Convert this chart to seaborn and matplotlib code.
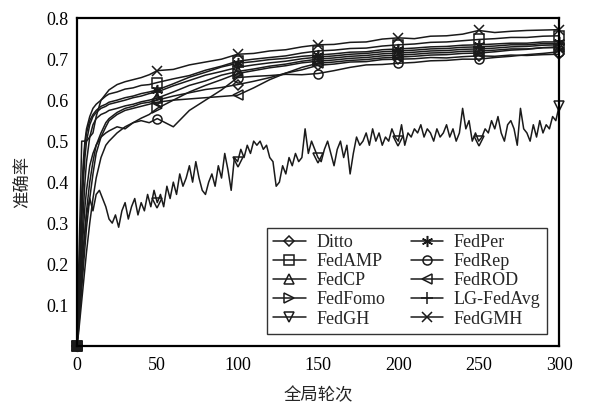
import matplotlib
matplotlib.use("Agg")
import matplotlib.pyplot as plt
import numpy as np
import pandas as pd
import seaborn as sns

# shared round grid for the smooth curves
ROUNDS = [0, 1, 2, 3, 4, 5, 6, 8, 10, 12, 15, 18, 20, 25, 30, 35, 40, 45, 50,
          60, 70, 80, 90, 100, 110, 120, 130, 140, 150, 160, 170, 180, 190, 200,
          210, 220, 230, 240, 250, 260, 270, 280, 290, 300]

DITTO = [0, 0.05, 0.10, 0.16, 0.22, 0.28, 0.33, 0.40, 0.45, 0.49, 0.52, 0.545, 0.555, 0.57, 0.58, 0.585, 0.592, 0.595, 0.60,
         0.61, 0.618, 0.626, 0.631, 0.638, 0.646, 0.655, 0.666, 0.674, 0.685, 0.688, 0.693, 0.694, 0.699, 0.70,
         0.701, 0.704, 0.703, 0.706, 0.708, 0.707, 0.71, 0.709, 0.711, 0.712]
FEDAMP = [0, 0.12, 0.25, 0.37, 0.45, 0.50, 0.53, 0.56, 0.58, 0.59, 0.60, 0.61, 0.615, 0.62, 0.627, 0.63, 0.636, 0.638, 0.643,
          0.652, 0.66, 0.673, 0.683, 0.695, 0.70, 0.704, 0.708, 0.715, 0.72, 0.722, 0.726, 0.727, 0.732, 0.735,
          0.737, 0.741, 0.742, 0.745, 0.748, 0.75, 0.753, 0.753, 0.756, 0.757]
FEDCP = [0, 0.06, 0.14, 0.24, 0.33, 0.40, 0.45, 0.51, 0.54, 0.555, 0.565, 0.57, 0.575, 0.58, 0.586, 0.59, 0.596, 0.60, 0.605,
         0.62, 0.636, 0.647, 0.661, 0.67, 0.676, 0.683, 0.688, 0.695, 0.70, 0.703, 0.707, 0.709, 0.713, 0.715,
         0.717, 0.72, 0.721, 0.724, 0.725, 0.727, 0.73, 0.731, 0.734, 0.735]
FEDFOMO = [0, 0.03, 0.07, 0.11, 0.15, 0.19, 0.23, 0.30, 0.36, 0.41, 0.46, 0.49, 0.50, 0.52, 0.535, 0.545, 0.556, 0.565, 0.58,
           0.60, 0.62, 0.636, 0.65, 0.665, 0.672, 0.679, 0.684, 0.691, 0.695, 0.698, 0.702, 0.704, 0.708, 0.71,
           0.712, 0.715, 0.716, 0.719, 0.72, 0.722, 0.725, 0.725, 0.728, 0.728]
FEDPER = [0, 0.10, 0.22, 0.34, 0.43, 0.49, 0.52, 0.55, 0.565, 0.575, 0.585, 0.59, 0.595, 0.60, 0.606, 0.61, 0.616, 0.62, 0.625,
          0.64, 0.656, 0.668, 0.681, 0.69, 0.694, 0.699, 0.702, 0.707, 0.71, 0.713, 0.717, 0.718, 0.723, 0.725,
          0.727, 0.73, 0.731, 0.734, 0.735, 0.737, 0.739, 0.739, 0.742, 0.742]
FEDREP = [0, 0.06, 0.13, 0.21, 0.28, 0.34, 0.38, 0.44, 0.47, 0.49, 0.51, 0.52, 0.525, 0.535, 0.53, 0.545, 0.55, 0.545, 0.555,
          0.535, 0.575, 0.60, 0.625, 0.655, 0.658, 0.66, 0.663, 0.662, 0.665, 0.672, 0.68, 0.686, 0.687, 0.69,
          0.692, 0.696, 0.697, 0.70, 0.70, 0.704, 0.707, 0.711, 0.714, 0.718]
FEDROD = [0, 0.04, 0.09, 0.14, 0.19, 0.24, 0.29, 0.36, 0.42, 0.47, 0.51, 0.535, 0.55, 0.565, 0.575, 0.58, 0.585, 0.59, 0.595,
          0.60, 0.603, 0.606, 0.609, 0.612, 0.63, 0.65, 0.666, 0.68, 0.69, 0.693, 0.697, 0.699, 0.703, 0.705,
          0.707, 0.71, 0.711, 0.714, 0.715, 0.718, 0.722, 0.724, 0.728, 0.73]
LG_FEDAVG = [0, 0.08, 0.18, 0.30, 0.40, 0.46, 0.50, 0.54, 0.56, 0.57, 0.58, 0.585, 0.59, 0.595, 0.60, 0.606, 0.61, 0.616, 0.62,
             0.635, 0.648, 0.661, 0.67, 0.68, 0.686, 0.691, 0.695, 0.701, 0.705, 0.708, 0.712, 0.714, 0.718, 0.72,
             0.722, 0.725, 0.726, 0.729, 0.73, 0.732, 0.735, 0.735, 0.738, 0.738]
FEDGMH = [0, 0.17, 0.33, 0.50, 0.50, 0.50, 0.50, 0.51, 0.52, 0.56, 0.60, 0.615, 0.625, 0.638, 0.645, 0.65, 0.655, 0.662, 0.672,
          0.675, 0.686, 0.693, 0.70, 0.712, 0.714, 0.72, 0.723, 0.73, 0.735, 0.736, 0.741, 0.742, 0.749, 0.752,
          0.75, 0.756, 0.757, 0.761, 0.77, 0.765, 0.768, 0.77, 0.771, 0.772]

# FedGH is noisy: every 2 rounds
ROUNDS_GH = list(range(0, 301, 2))
FEDGH = [0.00, 0.12, 0.24, 0.32, 0.36, 0.33, 0.37, 0.38, 0.36, 0.34,
         0.31, 0.30, 0.32, 0.29, 0.33, 0.35, 0.31, 0.34, 0.36, 0.32,
         0.35, 0.33, 0.37, 0.34, 0.38, 0.35, 0.37, 0.34, 0.39, 0.36,
         0.40, 0.37, 0.42, 0.39, 0.41, 0.44, 0.40, 0.45, 0.41, 0.38,
         0.37, 0.40, 0.42, 0.39, 0.44, 0.41, 0.47, 0.43, 0.38, 0.46,
         0.45, 0.48, 0.46, 0.49, 0.47, 0.50, 0.49, 0.50, 0.48, 0.49,
         0.46, 0.45, 0.39, 0.40, 0.44, 0.42, 0.46, 0.44, 0.47, 0.45,
         0.46, 0.53, 0.47, 0.50, 0.48, 0.46, 0.45, 0.48, 0.50, 0.47,
         0.44, 0.48, 0.50, 0.46, 0.49, 0.42, 0.47, 0.51, 0.49, 0.50,
         0.52, 0.49, 0.53, 0.50, 0.52, 0.49, 0.51, 0.50, 0.53, 0.51,
         0.50, 0.54, 0.49, 0.52, 0.51, 0.53, 0.52, 0.54, 0.51, 0.53,
         0.52, 0.50, 0.53, 0.51, 0.52, 0.54, 0.51, 0.53, 0.50, 0.52,
         0.58, 0.53, 0.55, 0.50, 0.52, 0.50, 0.51, 0.53, 0.52, 0.55,
         0.53, 0.56, 0.52, 0.50, 0.54, 0.55, 0.53, 0.49, 0.58, 0.53,
         0.52, 0.50, 0.54, 0.51, 0.55, 0.52, 0.54, 0.53, 0.56, 0.55,
         0.585]

METHODS = ["Ditto", "FedAMP", "FedCP", "FedFomo", "FedGH",
           "FedPer", "FedRep", "FedROD", "LG-FedAvg", "FedGMH"]
SERIES = {
    "Ditto": (ROUNDS, DITTO),
    "FedAMP": (ROUNDS, FEDAMP),
    "FedCP": (ROUNDS, FEDCP),
    "FedFomo": (ROUNDS, FEDFOMO),
    "FedGH": (ROUNDS_GH, FEDGH),
    "FedPer": (ROUNDS, FEDPER),
    "FedRep": (ROUNDS, FEDREP),
    "FedROD": (ROUNDS, FEDROD),
    "LG-FedAvg": (ROUNDS, LG_FEDAVG),
    "FedGMH": (ROUNDS, FEDGMH),
}
MARKERS = {
    "Ditto": "D", "FedAMP": "s", "FedCP": "^", "FedFomo": ">", "FedGH": "v",
    "FedPer": (6, 2, 0), "FedRep": "o", "FedROD": "<", "LG-FedAvg": "+", "FedGMH": "x",
}
MARKER_SIZE = {"Ditto": 5, "FedPer": 8, "LG-FedAvg": 8, "FedGMH": 6.5}

LINE_COLOR = "#1a1a1a"


def main() -> None:
    sns.set_theme(style="white")
    plt.rcParams["font.family"] = ["Liberation Serif", "Noto Sans CJK SC"]
    plt.rcParams["axes.unicode_minus"] = False

    fig = plt.figure(figsize=(5.96, 4.13), dpi=100)
    ax = fig.add_axes([0.129, 0.162, 0.809, 0.794])

    handles = []
    for name in METHODS:
        xs, ys = SERIES[name]
        df = pd.DataFrame({"round": xs, "acc": ys})
        mark_idx = [i for i, r in enumerate(xs) if r % 50 == 0]
        ms = MARKER_SIZE.get(name, 6.5)
        sns.lineplot(data=df, x="round", y="acc", ax=ax, color=LINE_COLOR,
                     linewidth=1.1, marker=MARKERS[name], markevery=mark_idx,
                     markersize=ms, markerfacecolor="none",
                     markeredgecolor=LINE_COLOR, markeredgewidth=1.1,
                     clip_on=False, sort=False, estimator=None)
        handles.append(plt.Line2D([], [], color=LINE_COLOR, linewidth=1.1,
                                  marker=MARKERS[name], markersize=ms,
                                  markerfacecolor="none",
                                  markeredgecolor=LINE_COLOR,
                                  markeredgewidth=1.1, label=name))

    ax.set_xlim(0, 300)
    ax.set_ylim(0, 0.8)
    ax.set_xticks(range(0, 301, 50))
    yt = [0.1, 0.2, 0.3, 0.4, 0.5, 0.6, 0.7, 0.8]
    ax.set_yticks(yt)
    ax.set_yticklabels([f"{v:.1f}" for v in yt])
    ax.tick_params(axis="both", direction="in", length=5, width=1.2,
                   labelsize=13, colors="black", pad=6)
    ax.tick_params(axis="x", pad=8)
    for sp in ax.spines.values():
        sp.set_color("black")
        sp.set_linewidth(1.6)

    ax.set_xlabel("全局轮次", fontsize=12.5, labelpad=10)
    ax.set_ylabel("准确率", fontsize=12.5, labelpad=10)

    leg = ax.legend(handles=handles, ncol=2, loc="lower right",
                    bbox_to_anchor=(0.975, 0.037), borderaxespad=0,
                    fontsize=13, frameon=True, fancybox=False,
                    handlelength=1.8, handletextpad=0.6, labelspacing=0.12,
                    columnspacing=1.4, borderpad=0.35)
    leg.get_frame().set_edgecolor("black")
    leg.get_frame().set_linewidth(1.0)

    fig.savefig("out.png", dpi=100)
    plt.close(fig)


if __name__ == "__main__":
    main()
